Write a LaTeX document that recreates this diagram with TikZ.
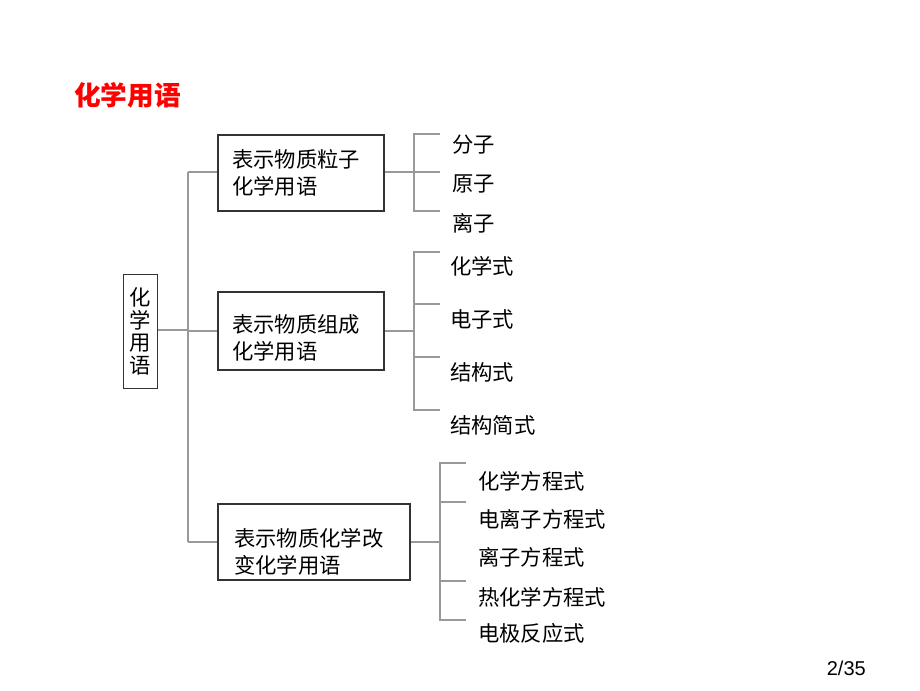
\documentclass[tikz,border=0pt]{standalone}
\usepackage{fontspec}
\setmainfont{Liberation Sans}
\newfontfamily\cjk{Noto Sans CJK SC}
\begin{document}
\begin{tikzpicture}[x=0.75pt,y=-0.75pt,
  ln/.style={draw=gray!80,line width=0.8pt},
  bx/.style={draw=black!80,line width=0.9pt,fill=white},
  t/.style={font=\cjk\fontsize{16}{19}\selectfont,anchor=west,inner sep=0},
  bt/.style={font=\cjk\fontsize{16}{20}\selectfont,align=left,anchor=west,inner sep=0}]
\useasboundingbox (0,0) rectangle (920,690);
\node[font=\cjk\bfseries\fontsize{20}{24}\selectfont,text=red,anchor=west,inner sep=0] (title) at (74,95) {化学用语};
\node[font=\fontsize{15}{18}\selectfont,anchor=east,inner sep=0] (pg) at (866,668) {2/35};
% left box
\node[bx,minimum width=25pt,minimum height=85pt,inner sep=0,font=\cjk\fontsize{16}{17}\selectfont,align=center] (root) at (140.5,331.5) {化\\学\\用\\语};
\coordinate (trT) at (188,172); \coordinate (trM) at (188,330); \coordinate (trB) at (188,542);
\draw[ln] (root.east|-trM) -- (trM);
\draw[ln] (trT) -- (trB);
% boxes
\node[bx,minimum width=124.5pt,minimum height=57pt,inner sep=0] (b1) at (301,173) {};
\node[bt] at (232,173) {表示物质粒子\\化学用语};
\node[bx,minimum width=124.5pt,minimum height=58.5pt,inner sep=0] (b2) at (301,331) {};
\node[bt] at (232,338) {表示物质组成\\化学用语};
\node[bx,minimum width=144pt,minimum height=57pt,inner sep=0] (b3) at (314,542) {};
\node[bt] at (234,552) {表示物质化学改\\变化学用语};
\draw[ln] (trT) -- (b1.west|-trT);
\draw[ln] (188,331) -- (b2.west);
\draw[ln] (trB) -- (b3.west);
% bracket 1
\coordinate (k1) at (414,172);
\draw[ln] (b1.east|-k1) -- (k1);
\draw[ln] (440,134) -- (414,134) -- (414,211) -- (440,211);
\draw[ln] (414,172) -- (440,172);
\node[t] (a1) at (452,145) {分子};
\node[t] (a2) at (452,184) {原子};
\node[t] (a3) at (452,223) {离子};
% bracket 2
\coordinate (k2) at (414,331);
\draw[ln] (b2.east) -- (k2);
\draw[ln] (440,252) -- (414,252) -- (414,410) -- (440,410);
\draw[ln] (414,304) -- (440,304);
\draw[ln] (414,357) -- (440,357);
\node[t] (c1) at (450,266) {化学式};
\node[t] (c2) at (450,319) {电子式};
\node[t] (c3) at (450,372) {结构式};
\node[t] (c4) at (450,425) {结构简式};
% bracket 3
\coordinate (k3) at (440,542);
\draw[ln] (b3.east) -- (k3);
\draw[ln] (466,463) -- (440,463) -- (440,620) -- (466,620);
\draw[ln] (440,502) -- (466,502);
\draw[ln] (440,581) -- (466,581);
\node[t] (d1) at (478,481) {化学方程式};
\node[t] (d2) at (478,519) {电离子方程式};
\node[t] (d3) at (478,557) {离子方程式};
\node[t] (d4) at (478,597) {热化学方程式};
\node[t] (d5) at (478,633) {电极反应式};
\end{tikzpicture}
\end{document}
